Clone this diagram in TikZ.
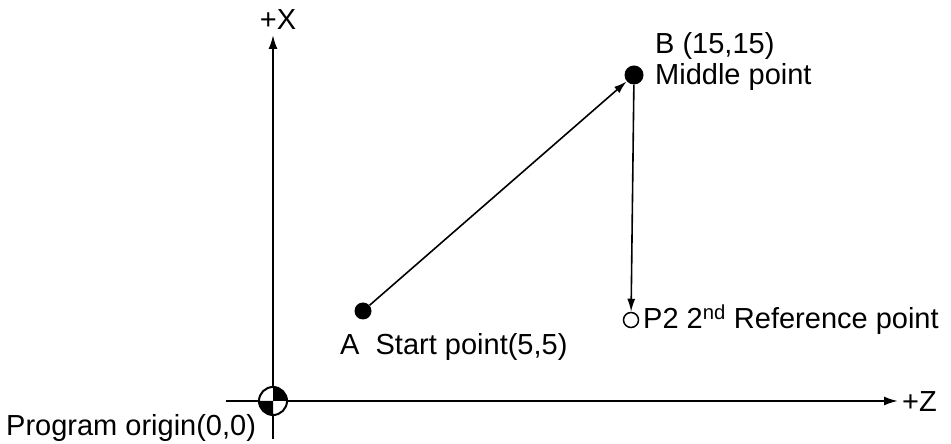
\documentclass[tikz,border=0pt]{standalone}
\usepackage{fontspec}
\setmainfont{Liberation Sans}
\usepackage{tikz}
\usetikzlibrary{positioning,arrows.meta}

\begin{document}
\begin{tikzpicture}[x=1pt, y=1pt,
  axis/.style={line width=2pt, -{Latex[length=14pt, width=9pt]}},
  arr/.style={line width=1.6pt, -{Latex[length=13pt, width=8pt]}},
  dot/.style={circle, fill=black, inner sep=0pt, minimum size=#1},
  hole/.style={circle, draw, line width=1.5pt, inner sep=0pt, minimum size=#1},
  lbl/.style={font=\fontsize{29}{31}\selectfont, inner sep=0pt, anchor=west, align=left}
]
\useasboundingbox (0,0) rectangle (951,444);
\coordinate (orig) at (273,43);
\coordinate (xbot) at (273,5);
\coordinate (xtop) at (273,409);
\coordinate (zleft) at (226,43);
\coordinate (zright) at (898,43);

% axes
\draw[axis] (xbot) -- (xtop);
\draw[axis] (zleft) -- (zright);

% origin mark
\fill[white] (orig) circle (14);
\fill (orig) -- ++(14,0) arc (0:90:14) -- cycle;
\fill (orig) -- ++(-14,0) arc (180:270:14) -- cycle;
\draw[line width=2pt] (orig) circle (14);

% points
\node[dot=17pt] (A) at (363,133) {};
\node[dot=19pt] (B) at (634,369) {};
\node[hole=15pt] (P2) at (631,124) {};
\draw[arr] (A) -- (B);
\draw[arr] (B) -- (P2);

% labels
\node[lbl, anchor=center] (xlbl) at (278,424) {+X};
\node[lbl] (zlbl) at (902,42) {+Z};
\node[lbl, anchor=north west] (Blbl) at (655,412) {B (15,15)\\Middle point};
\node[lbl] (Albl) at (340,97) {A\ \ Start point(5,5)};
\node[lbl] (P2lbl) at (643,124) {P2 2\textsuperscript{nd} Reference point};
\node[lbl] (olbl) at (6,16) {Program origin(0,0)};
\end{tikzpicture}
\end{document}
